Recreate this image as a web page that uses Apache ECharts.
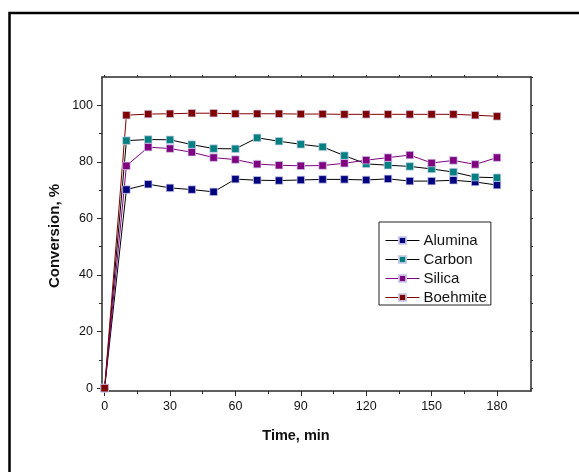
<!DOCTYPE html>
<html>
<head>
<meta charset="utf-8">
<script src="https://cdn.jsdelivr.net/npm/echarts@6/dist/echarts.min.js"></script>
<style>
html,body{margin:0;padding:0;background:#fff;}
#chart{width:579px;height:472px;}
</style>
</head>
<body>
<div id="chart"></div>
<script>
// ---- data ----
var timeMin = [0, 10, 20, 30, 40, 50, 60, 70, 80, 90, 100, 110, 120, 130, 140, 150, 160, 170, 180];
var alumina = [0, 70.2, 72.1, 70.8, 70.2, 69.4, 73.9, 73.5, 73.4, 73.6, 73.8, 73.8, 73.6, 74.0, 73.2, 73.2, 73.5, 72.9, 71.8];
var carbon = [0, 87.5, 87.9, 87.8, 86.1, 84.7, 84.6, 88.5, 87.3, 86.2, 85.3, 82.2, 79.3, 78.8, 78.4, 77.5, 76.4, 74.6, 74.4];
var silica = [0, 78.6, 85.2, 84.7, 83.4, 81.5, 80.8, 79.2, 78.8, 78.6, 78.7, 79.5, 80.6, 81.5, 82.4, 79.6, 80.5, 79.1, 81.5];
var boehmite = [0, 96.5, 96.9, 97.0, 97.2, 97.2, 97.0, 97.0, 97.0, 96.9, 96.9, 96.8, 96.8, 96.8, 96.8, 96.8, 96.8, 96.5, 96.1];
var xTickLabels = [0, 30, 60, 90, 120, 150, 180];
var xMinorTicks = [15, 45, 75, 105, 135, 165];
var xTopTicks = [0, 15, 30, 45, 60, 75, 90, 105, 120, 135, 150, 165, 180];
var yTickLabels = [0, 20, 40, 60, 80, 100];
var yMinorTicks = [10, 30, 50, 70, 90];
var yRightTicks = [0, 10, 20, 30, 40, 50, 60, 70, 80, 90, 100, 110];
var xTitle = 'Time, min';
var yTitle = 'Conversion, %';

function pairs(ys){ return timeMin.map(function(x,i){ return [x, ys[i]]; }); }

var FONT = 'Liberation Sans, Arial, sans-serif';
var axisColor = '#2a2a2a';
var XMIN = -1.2, XMAX = 195.6, YMIN = -1, YMAX = 110;
var gridBox = {left: 102, top: 77, right: 48, bottom: 81, containLabel: false};

var chart = echarts.init(document.getElementById('chart'), null, {renderer:'canvas'});

function mkSeries(name, data, lineColor, markColor){
  return {
    name: name, type: 'line', data: pairs(data),
    xAxisIndex: 0, yAxisIndex: 0,
    symbol: 'rect', symbolSize: 7.5,
    lineStyle: {color: lineColor, width: 1},
    itemStyle: {color: markColor, borderColor: 'rgba(205,205,235,0.9)', borderWidth: 0.8},
    emphasis: {disabled: true},
    animation: false
  };
}
function g(){ var o = {}; for (var k in gridBox) o[k] = gridBox[k]; return o; }

var option = {
  backgroundColor: '#fff',
  animation: false,
  grid: [g(), g(), g()],
  xAxis: [
    {gridIndex:0, type:'value', min:XMIN, max:XMAX, position:'bottom',
     axisLine:{show:true, onZero:false, lineStyle:{color:axisColor, width:1.5}},
     axisTick:{show:true, customValues:xTickLabels, length:5, lineStyle:{color:axisColor, width:1}},
     axisLabel:{show:true, customValues:xTickLabels, margin:9, fontSize:12.5, color:'#111', fontFamily:FONT},
     splitLine:{show:false}},
    {gridIndex:1, type:'value', min:XMIN, max:XMAX, position:'bottom',
     axisLine:{show:false, onZero:false},
     axisTick:{show:true, customValues:xMinorTicks, length:3, lineStyle:{color:axisColor, width:1}},
     axisLabel:{show:false}, splitLine:{show:false}},
    {gridIndex:2, type:'value', min:XMIN, max:XMAX, position:'top',
     axisLine:{show:true, onZero:false, lineStyle:{color:axisColor, width:1.5}},
     axisTick:{show:true, customValues:xTopTicks, length:2, lineStyle:{color:axisColor, width:1}},
     axisLabel:{show:false}, splitLine:{show:false}}
  ],
  yAxis: [
    {gridIndex:0, type:'value', min:YMIN, max:YMAX, position:'left',
     axisLine:{show:true, onZero:false, lineStyle:{color:axisColor, width:1.5}},
     axisTick:{show:true, customValues:yTickLabels, length:5, lineStyle:{color:axisColor, width:1}},
     axisLabel:{show:true, customValues:yTickLabels, margin:9, fontSize:12.5, color:'#111', fontFamily:FONT},
     splitLine:{show:false}},
    {gridIndex:1, type:'value', min:YMIN, max:YMAX, position:'left',
     axisLine:{show:false, onZero:false},
     axisTick:{show:true, customValues:yMinorTicks, length:3, lineStyle:{color:axisColor, width:1}},
     axisLabel:{show:false}, splitLine:{show:false}},
    {gridIndex:2, type:'value', min:YMIN, max:YMAX, position:'right',
     axisLine:{show:true, onZero:false, lineStyle:{color:axisColor, width:1.5}},
     axisTick:{show:true, customValues:yRightTicks, length:2, lineStyle:{color:axisColor, width:1}},
     axisLabel:{show:false}, splitLine:{show:false}}
  ],
  legend: {
    show: true, orient: 'vertical', left: 379, top: 222,
    width: 114,
    data: ['Alumina','Carbon','Silica','Boehmite'],
    itemWidth: 34, itemHeight: 9, itemGap: 4,
    padding: [11, 4, 0, 6],
    borderColor: '#222', borderWidth: 1, borderRadius: 0,
    backgroundColor: '#fff',
    lineStyle: {width: 1},
    textStyle: {fontSize: 15, color:'#111', fontFamily: FONT, padding:[0,0,0,-1]},
    selectedMode: false
  },
  graphic: [
    {type:'rect', silent:true, z:-10, shape:{x:9.5, y:13, width:640, height:520},
     style:{fill:'none', stroke:'#000', lineWidth:2.5}},
    {type:'text', x:296, y:436, silent:true,
     style:{text:xTitle, font:'bold 14.5px ' + FONT, fill:'#111', align:'center', verticalAlign:'middle'}},
    {type:'text', x:55, y:236, rotation:Math.PI/2, silent:true,
     style:{text:yTitle, font:'bold 15px ' + FONT, fill:'#111', align:'center', verticalAlign:'middle'}}
  ],
  series: [
    mkSeries('Alumina', alumina, '#000000', '#000080'),
    mkSeries('Carbon', carbon, '#000000', '#008080'),
    mkSeries('Silica', silica, '#800080', '#800080'),
    mkSeries('Boehmite', boehmite, '#800000', '#800000')
  ]
};
chart.setOption(option);
</script>
</body>
</html>
